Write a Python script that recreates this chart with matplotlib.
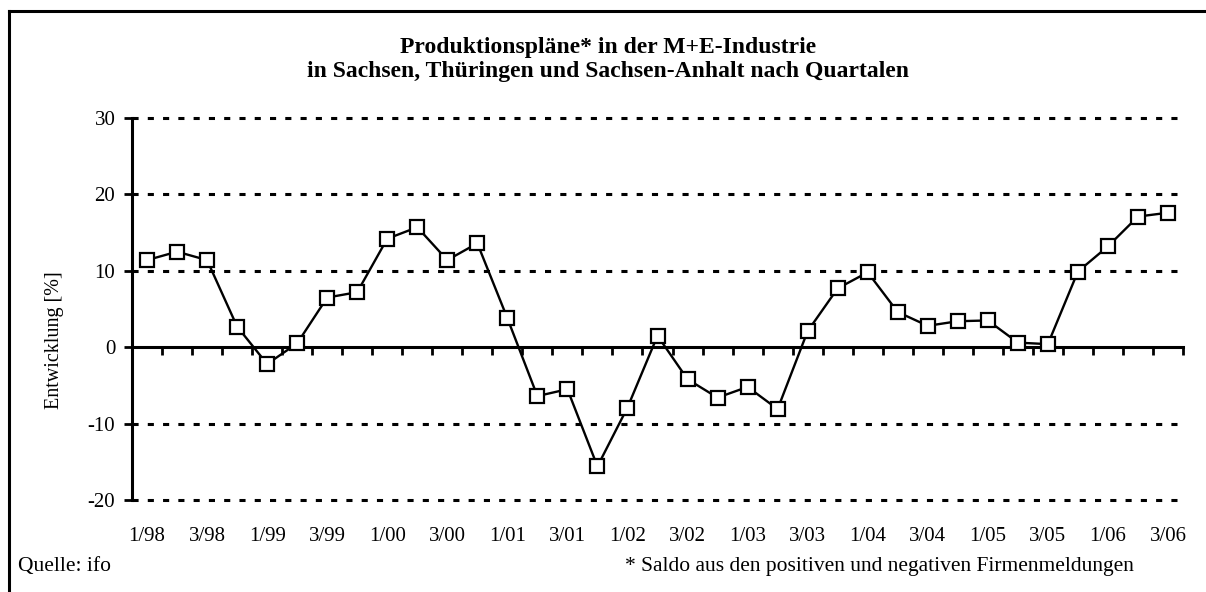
import matplotlib
matplotlib.use("Agg")
import matplotlib.pyplot as plt
from matplotlib.lines import Line2D

plt.rcParams["font.family"] = ["Liberation Serif", "DejaVu Serif"]

# Quartale 1/98 .. 3/06
quartale = [f"{q}/{j:02d}" for j in [98, 99, 0, 1, 2, 3, 4, 5, 6] for q in [1, 2, 3, 4]][:35]
werte = [11.4, 12.5, 11.4, 2.7, -2.2, 0.5, 6.5, 7.2, 14.2, 15.7, 11.4, 13.6,
         3.8, -6.4, -5.5, -15.6, -7.9, 1.5, -4.2, -6.6, -5.2, -8.1, 2.1, 7.7,
         9.8, 4.6, 2.8, 3.4, 3.5, 0.6, 0.4, 9.9, 13.2, 17.1, 17.6]
yticks = [-20, -10, 0, 10, 20, 30]

W, H = 1206, 592
fig = plt.figure(figsize=(W / 100, H / 100), dpi=100)
ax = fig.add_axes([132 / W, (H - 500) / H, (1183 - 132) / W, (500 - 118) / H])

x = [i + 0.5 for i in range(len(werte))]
ax.set_xlim(0, len(werte))
ax.set_ylim(-20, 30)

# gepunktete Gitterlinien
for y in yticks:
    if y != 0:
        ax.plot([0, len(werte)], [y, y], color="black", lw=2.2,
                dashes=(2, 3), solid_capstyle="butt", zorder=1, clip_on=False)

ax.plot(x, werte, color="black", lw=1.7, marker="s", ms=9.5,
        mfc="white", mec="black", mew=1.6, zorder=3, clip_on=False)

for s in ["top", "right"]:
    ax.spines[s].set_visible(False)
ax.spines["bottom"].set_position(("data", 0))
ax.spines["bottom"].set_linewidth(2.2)
ax.spines["left"].set_linewidth(2.2)

ax.set_yticks(yticks)
ax.set_yticklabels([str(v) for v in yticks], fontsize=15)
ax.tick_params(axis="y", direction="out", length=6, width=2, pad=6)
ax.set_xticks(range(len(werte) + 1))
ax.set_xticklabels([])
ax.tick_params(axis="x", direction="out", length=6, width=2)

trans = ax.get_xaxis_transform()
for i in range(0, len(werte), 2):
    ax.text(x[i], -0.095, quartale[i], transform=trans, ha="center", va="center",
            fontsize=15)

fig.text(55 / W, 1 - 340 / H, "Entwicklung [%]", rotation=90, ha="center",
         va="center", fontsize=14.5)
fig.text(608 / W, 1 - 48 / H, "Produktionspläne* in der M+E-Industrie",
         ha="center", va="center", fontsize=17, fontweight="bold")
fig.text(608 / W, 1 - 72 / H, "in Sachsen, Thüringen und Sachsen-Anhalt nach Quartalen",
         ha="center", va="center", fontsize=17, fontweight="bold")
fig.text(18 / W, 1 - 566 / H, "Quelle: ifo", ha="left", va="center", fontsize=15.5)
fig.text(625 / W, 1 - 566 / H, "* Saldo aus den positiven und negativen Firmenmeldungen",
         ha="left", va="center", fontsize=15.5)

# Rahmen oben und links
fig.add_artist(Line2D([9 / W, 9 / W], [0, 1 - 11 / H], color="black", lw=2.2))
fig.add_artist(Line2D([9 / W, 1], [1 - 11 / H, 1 - 11 / H], color="black", lw=2.2))

fig.savefig("out.png", dpi=100)
